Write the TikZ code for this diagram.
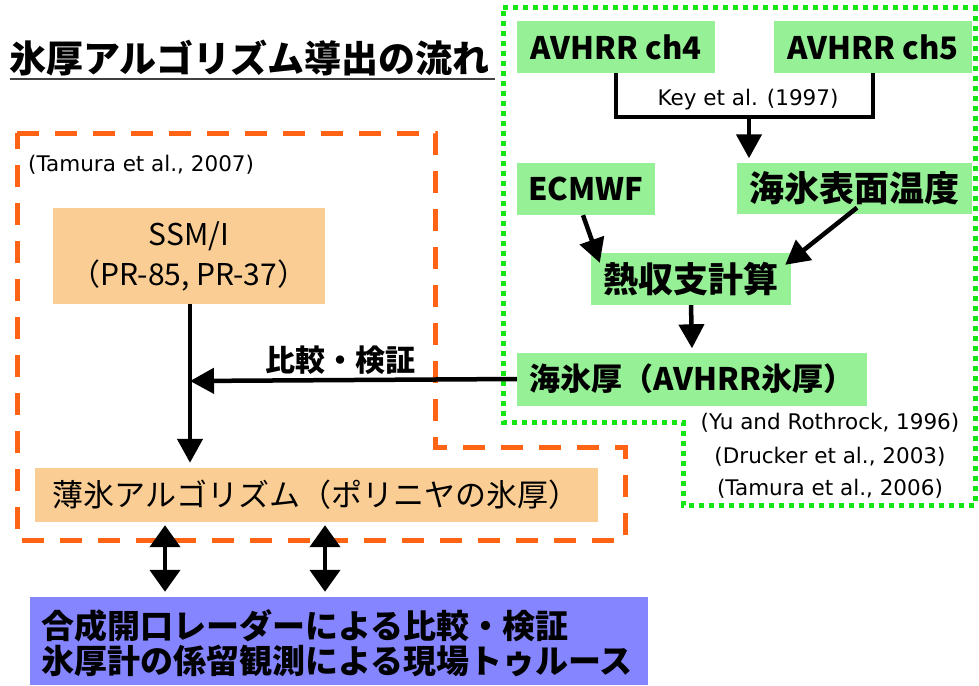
\documentclass[tikz,border=0pt]{standalone}
\usepackage{fontspec}
\setmainfont{Noto Sans CJK JP}
\newfontfamily\citefont{DejaVu Sans}
\usetikzlibrary{arrows.meta,calc}
\definecolor{gfill}{RGB}{150,240,150}
\definecolor{ofill}{RGB}{250,205,148}
\definecolor{bfill}{RGB}{133,133,255}
\definecolor{gdot}{RGB}{20,230,20}
\definecolor{odash}{RGB}{255,100,20}
\tikzset{
  gnode/.style={fill=gfill, inner sep=0pt, font=\fontsize{31}{36}\selectfont\bfseries},
  onode/.style={fill=ofill, inner sep=0pt},
  arr/.style={line width=4.5pt, -{Triangle[length=24pt,width=25pt]}},
  darr/.style={line width=4.5pt, {Triangle[length=22pt,width=30pt]}-{Triangle[length=22pt,width=30pt]}},
  cite/.style={font=\citefont\fontsize{21.5}{24}\selectfont, inner sep=0pt},
}
\begin{document}
\begin{tikzpicture}[x=1pt,y=-1pt]
\useasboundingbox (0,0) rectangle (979,685);
% title
\node[anchor=west, inner sep=0pt, font=\fontsize{37}{42}\selectfont\bfseries] (title) at (9,58) {氷厚アルゴリズム導出の流れ};
\draw[line width=1.5pt, black!75] (10,79) coordinate (ul1) -- (495,79) coordinate (ul2);
% dashed / dotted frames
\draw[odash, line width=5pt, dash pattern=on 22pt off 16pt] (17,133) -- (435,133) -- (435,447) -- (625,447) -- (625,540) -- (17,540) -- cycle;
\draw[gdot, line width=5pt, dash pattern=on 5pt off 5pt] (503,8) -- (975,8) -- (975,505) -- (683,505) -- (683,422) -- (503,422) -- cycle;
% green nodes
\node[gnode, minimum width=198pt, minimum height=52pt] (ch4) at (616,47) {AVHRR ch4};
\node[gnode, minimum width=198pt, minimum height=52pt] (ch5) at (873,47) {AVHRR ch5};
\node[gnode, minimum width=138pt, minimum height=52pt] (ecmwf) at (586,189) {ECMWF};
\node[gnode, minimum width=235pt, minimum height=51pt, font=\fontsize{35}{40}\selectfont\bfseries] (sst) at (854,188) {海氷表面温度};
\node[gnode, minimum width=200pt, minimum height=52pt, font=\fontsize{35}{40}\selectfont\bfseries] (heat) at (691,279) {熱収支計算};
\node[gnode, minimum width=350pt, minimum height=53pt] (avthk) at (692,379) {海氷厚（AVHRR氷厚）};
% orange nodes
\node[onode, minimum width=272pt, minimum height=96pt, align=center, font=\fontsize{30}{40}\selectfont] (ssmi) at (189,256) {SSM/I\\（PR-85, PR-37）};
\node[onode, minimum width=563pt, minimum height=54pt, font=\fontsize{31}{34}\selectfont] (thin) at (316,495) {薄氷アルゴリズム（ポリニヤの氷厚）};
% blue node
\node[fill=bfill, minimum width=618pt, minimum height=88pt, inner sep=0pt] (blue) at (339,641) {};
\node[anchor=west, align=left, inner sep=0pt, font=\fontsize{33}{35}\selectfont\bfseries] (bluetext) at (41,643) {合成開口レーダーによる比較・検証\\氷厚計の係留観測による現場トゥルース};
% citations
\node[cite, anchor=west] (c2007) at (28,165) {(Tamura et al., 2007)};
\node[cite] (key) at (748,100) {Key et al. (1997)};
\node[cite] (c1996) at (830,423) {(Yu and Rothrock, 1996)};
\node[cite] (c2003) at (830,457) {(Drucker et al., 2003)};
\node[cite] (c2006) at (830,489) {(Tamura et al., 2006)};
% connectors
\coordinate (kj) at (749,117);
\draw[line width=4.5pt] (ch4.south) |- (kj) -| (ch5.south);
\draw[arr] (kj) -- ($(kj |- sst.north)+(0,-4)$);
\draw[arr] ($(ecmwf.south)+(-3,0)$) -- ($(heat.north west)+(9,10)$);
\draw[arr] ($(sst.south)+(3,-6)$) -- ($(heat.north east)+(-6,12)$);
\draw[arr] (heat.south) -- ($(avthk.north)+(0,-4)$);
\coordinate (join) at (190,381);
\draw[arr] (avthk.west) -- (join) node[pos=0.54, above=3pt, font=\fontsize{30}{34}\selectfont\bfseries, inner sep=0pt] (cmp) {比較・検証};
\draw[arr] (ssmi.south -| join) -- ($(join |- thin.north)+(0,-5)$);
\draw[darr] ($(thin.south)+(-151,3)$) -- ($(blue.north)+(-174,-5)$);
\draw[darr] ($(thin.south)+(9,3)$) -- ($(blue.north)+(-14,-5)$);
\end{tikzpicture}
\end{document}
